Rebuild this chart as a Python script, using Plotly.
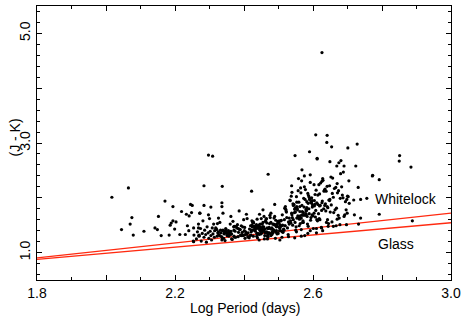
import plotly.graph_objects as go

# ---- data (log period in days, J-K colour) ----
sparse_logp = [2.017, 2.065, 2.075, 2.070, 2.045, 2.079, 2.110, 2.142, 2.149, 2.152, 2.160, 2.171,
               2.183, 2.186, 2.189, 2.194, 2.203, 2.199, 2.194, 2.214, 2.219, 2.230, 2.236, 2.240,
               2.233, 2.241, 2.248, 2.245, 2.250, 2.253, 2.270, 2.272, 2.284, 2.304, 2.336, 2.336,
               2.284, 2.337, 2.297, 2.309, 2.422, 2.470, 2.548, 2.590, 2.612, 2.568, 2.649, 2.608,
               2.626, 2.641, 2.640, 2.654, 2.701, 2.728, 2.612, 2.675, 2.681, 2.669, 2.690, 2.724,
               2.688, 2.704, 2.772, 2.731, 2.698, 2.718, 2.738, 2.756, 2.696, 2.699, 2.720, 2.738,
               2.732, 2.670, 2.644, 2.625, 2.851, 2.850, 2.884, 2.773, 2.792, 2.792, 2.888,
               2.254, 2.268, 2.255, 2.269, 2.254, 2.272, 2.592, 2.628, 2.659, 2.504, 2.678, 2.478]
sparse_jk = [2.01, 2.18, 1.64, 1.52, 1.42, 1.32, 1.39, 1.45, 1.42, 1.66, 1.31, 1.94,
             1.32, 1.50, 1.54, 1.58, 1.56, 1.43, 1.84, 1.33, 1.75, 1.33, 1.49, 1.40,
             1.70, 1.67, 1.73, 1.88, 1.86, 1.21, 1.32, 1.72, 1.86, 1.83, 1.91, 1.84,
             2.22, 2.21, 2.78, 2.76, 2.12, 2.43, 2.77, 2.84, 2.72, 2.51, 2.66, 3.15,
             4.65, 3.14, 3.01, 2.93, 2.91, 2.98, 2.71, 2.64, 2.68, 2.58, 2.58, 2.58,
             2.47, 2.31, 2.40, 2.19, 1.97, 1.96, 1.97, 1.99, 1.78, 1.72, 1.69, 1.63,
             1.52, 1.61, 1.48, 1.45, 2.77, 2.67, 2.56, 2.41, 2.33, 1.70, 1.58,
             1.45, 1.45, 1.32, 1.31, 1.20, 1.72, 1.40, 1.40, 1.48, 1.23, 1.51, 1.31]

band_a_logp = [2.262, 2.265, 2.268, 2.270, 2.274, 2.276, 2.279, 2.281, 2.284, 2.286, 2.289, 2.291,
               2.293, 2.296, 2.298, 2.300, 2.302, 2.304, 2.306, 2.308, 2.310, 2.312, 2.314, 2.315, 2.297]
band_a_jk = [1.25, 1.38, 1.52, 1.30, 1.44, 1.21, 1.35, 1.58, 1.28, 1.41, 1.33, 1.19,
             1.47, 1.36, 1.26, 1.62, 1.39, 1.31, 1.23, 1.45, 1.34, 1.52, 1.28, 1.40, 1.69]

band_b_logp = [2.324, 2.337, 2.319, 2.351, 2.330, 2.345, 2.362, 2.327, 2.372, 2.341, 2.321, 2.358,
               2.335, 2.381, 2.348, 2.366, 2.318, 2.390, 2.355, 2.376, 2.333, 2.399, 2.343, 2.386,
               2.364, 2.405, 2.329, 2.370, 2.352, 2.411, 2.339, 2.384, 2.360, 2.415, 2.347, 2.394,
               2.374, 2.322, 2.402, 2.356, 2.388, 2.336, 2.408, 2.368, 2.326, 2.397, 2.379, 2.349,
               2.413, 2.332, 2.392, 2.361, 2.344, 2.403, 2.383, 2.353, 2.409, 2.371, 2.338, 2.396,
               2.359, 2.401, 2.323, 2.389, 2.373, 2.339, 2.362, 2.386, 2.407, 2.326]
band_b_jk = [1.36, 1.27, 1.44, 1.31, 1.55, 1.22, 1.39, 1.33, 1.48, 1.26, 1.42, 1.35,
             1.29, 1.51, 1.38, 1.24, 1.45, 1.32, 1.40, 1.28, 1.36, 1.60, 1.34, 1.43,
             1.25, 1.38, 1.31, 1.47, 1.35, 1.29, 1.41, 1.37, 1.52, 1.27, 1.44, 1.33,
             1.39, 1.30, 1.46, 1.36, 1.42, 1.23, 1.34, 1.57, 1.38, 1.31, 1.45, 1.36,
             1.28, 1.41, 1.49, 1.33, 1.39, 1.26, 1.44, 1.35, 1.62, 1.30, 1.40, 1.47,
             1.37, 1.32, 1.53, 1.42, 1.28, 1.72, 1.66, 1.76, 1.70, 1.63]

band_c_logp = [2.421, 2.434, 2.418, 2.447, 2.426, 2.439, 2.452, 2.430, 2.461, 2.444, 2.423, 2.456,
               2.437, 2.468, 2.449, 2.428, 2.473, 2.441, 2.459, 2.419, 2.482, 2.465, 2.432, 2.477,
               2.454, 2.488, 2.425, 2.470, 2.446, 2.493, 2.436, 2.479, 2.458, 2.499, 2.442, 2.485,
               2.463, 2.420, 2.505, 2.451, 2.474, 2.431, 2.510, 2.490, 2.466, 2.438, 2.515, 2.457,
               2.496, 2.427, 2.481, 2.503, 2.445, 2.519, 2.471, 2.486, 2.433, 2.508, 2.460, 2.494,
               2.422, 2.476, 2.512, 2.448, 2.501, 2.467, 2.523, 2.440, 2.483, 2.453, 2.517, 2.429,
               2.491, 2.462, 2.506, 2.475, 2.435, 2.497, 2.513, 2.450, 2.480, 2.521, 2.443, 2.469,
               2.502, 2.424, 2.489, 2.516, 2.455, 2.478, 2.509, 2.484, 2.464, 2.495, 2.520, 2.472,
               2.498, 2.511, 2.458, 2.487, 2.504, 2.522, 2.448, 2.437, 2.492, 2.518, 2.466,
               2.444, 2.468, 2.489, 2.455]
band_c_jk = [1.38, 1.45, 1.31, 1.52, 1.41, 1.27, 1.36, 1.48, 1.43, 1.33, 1.58, 1.39,
             1.46, 1.30, 1.41, 1.54, 1.36, 1.44, 1.25, 1.49, 1.38, 1.62, 1.42, 1.34,
             1.47, 1.40, 1.55, 1.29, 1.45, 1.37, 1.51, 1.43, 1.66, 1.35, 1.48, 1.41,
             1.57, 1.32, 1.46, 1.39, 1.53, 1.44, 1.28, 1.50, 1.37, 1.61, 1.42, 1.47,
             1.34, 1.56, 1.45, 1.40, 1.70, 1.49, 1.36, 1.52, 1.43, 1.59, 1.31, 1.47,
             1.41, 1.64, 1.50, 1.38, 1.55, 1.45, 1.74, 1.35, 1.52, 1.43, 1.60, 1.48,
             1.26, 1.57, 1.40, 1.68, 1.46, 1.53, 1.37, 1.62, 1.44, 1.79, 1.50, 1.33,
             1.58, 1.47, 1.66, 1.41, 1.55, 1.72, 1.49, 1.36, 1.61, 1.52, 1.84, 1.44,
             1.57, 1.69, 1.39, 1.63, 1.51, 1.76, 1.46, 1.30, 1.59, 1.81, 1.54,
             1.23, 1.25, 1.88, 1.78]

band_d_logp = [2.531, 2.526, 2.544, 2.529, 2.538, 2.552, 2.534, 2.561, 2.541, 2.547, 2.556, 2.537,
               2.566, 2.549, 2.571, 2.543, 2.558, 2.576, 2.553, 2.563, 2.581, 2.568, 2.539, 2.586,
               2.574, 2.559, 2.591, 2.579, 2.548, 2.596, 2.583, 2.564, 2.601, 2.588, 2.572, 2.606,
               2.593, 2.545, 2.610, 2.598, 2.577, 2.555, 2.603, 2.584, 2.562, 2.540, 2.589, 2.569,
               2.551, 2.594, 2.580, 2.557, 2.535, 2.599, 2.573, 2.550, 2.608, 2.585, 2.566, 2.542,
               2.592, 2.570, 2.554, 2.533, 2.597, 2.578, 2.560, 2.604, 2.587, 2.546, 2.528, 2.595,
               2.575, 2.611, 2.582, 2.565, 2.600, 2.590, 2.567, 2.536, 2.605, 2.552, 2.580, 2.609,
               2.610, 2.611, 2.529, 2.547, 2.566, 2.585, 2.538, 2.558, 2.575, 2.592, 2.543, 2.553,
               2.563, 2.572, 2.582, 2.594, 2.603]
band_d_jk = [1.63, 1.45, 1.88, 1.56, 1.72, 1.38, 1.95, 1.61, 1.50, 1.79, 1.67, 2.03,
             1.42, 1.74, 1.58, 1.86, 1.65, 1.31, 1.92, 1.53, 1.77, 1.69, 2.10, 1.48,
             1.83, 1.62, 1.98, 1.71, 1.55, 1.90, 1.66, 2.18, 1.44, 1.80, 1.73, 2.06,
             1.59, 1.87, 1.36, 1.95, 1.68, 1.78, 2.24, 1.52, 1.84, 1.64, 2.01, 1.75,
             1.47, 1.92, 1.70, 2.13, 1.58, 1.86, 1.99, 1.41, 1.77, 2.08, 1.63, 1.89,
             2.28, 1.55, 1.81, 1.96, 1.69, 2.15, 1.49, 1.85, 2.04, 1.73, 1.33, 1.93,
             2.20, 1.60, 1.82, 2.09, 1.67, 1.97, 2.31, 1.54, 1.88, 2.02, 1.76, 2.14,
             1.44, 1.91, 1.29, 1.27, 1.30, 1.35, 2.22, 2.35, 2.40, 2.42, 1.60, 1.84,
             1.67, 1.55, 1.93, 1.64, 1.72]

band_e_logp = [2.618, 2.614, 2.631, 2.622, 2.645, 2.627, 2.638, 2.616, 2.652, 2.634, 2.620, 2.659,
               2.641, 2.625, 2.667, 2.649, 2.629, 2.673, 2.656, 2.636, 2.680, 2.613, 2.662, 2.643,
               2.687, 2.624, 2.670, 2.650, 2.694, 2.632, 2.676, 2.657, 2.619, 2.700, 2.639, 2.683,
               2.664, 2.646, 2.626, 2.690, 2.671, 2.653, 2.697, 2.635, 2.679, 2.660, 2.617, 2.705,
               2.642, 2.685, 2.668, 2.628, 2.692, 2.648, 2.674, 2.655, 2.621, 2.702, 2.637, 2.666]
band_e_jk = [1.62, 2.05, 1.80, 2.27, 1.53, 1.94, 2.12, 1.71, 2.38, 1.86, 1.60, 2.01,
             2.21, 1.77, 1.49, 1.97, 2.32, 1.68, 2.08, 1.89, 2.44, 1.58, 2.17, 1.82,
             2.00, 1.46, 2.26, 1.74, 1.93, 2.12, 1.63, 2.36, 1.85, 2.03, 1.55, 2.20,
             1.78, 1.96, 2.30, 1.66, 2.09, 1.87, 1.51, 2.16, 1.99, 1.73, 2.24, 1.90,
             1.60, 2.05, 1.81, 2.35, 1.69, 1.95, 2.13, 1.56, 1.86, 2.02, 1.76, 2.19]

core_logp = [2.342, 2.356, 2.371, 2.383, 2.395, 2.404, 2.416, 2.427, 2.433, 2.441, 2.449, 2.458,
             2.466, 2.473, 2.481, 2.488, 2.494, 2.503, 2.511, 2.519,
             2.348, 2.364, 2.377, 2.392, 2.401, 2.412, 2.423, 2.437, 2.446, 2.453, 2.462, 2.470,
             2.478, 2.485, 2.497, 2.507, 2.515, 2.524, 2.531, 2.539,
             2.548, 2.553, 2.559, 2.562, 2.568, 2.571, 2.577, 2.580, 2.586, 2.589, 2.596, 2.598,
             2.604, 2.607, 2.614, 2.619, 2.626, 2.633, 2.641, 2.648]
core_jk = [1.35, 1.30, 1.41, 1.29, 1.37, 1.33, 1.43, 1.30, 1.39, 1.47, 1.34, 1.42,
           1.38, 1.46, 1.33, 1.51, 1.40, 1.45, 1.38, 1.49,
           1.42, 1.34, 1.48, 1.31, 1.40, 1.36, 1.50, 1.35, 1.41, 1.52, 1.36, 1.44,
           1.55, 1.42, 1.48, 1.58, 1.43, 1.64, 1.52, 1.69,
           1.81, 1.63, 1.92, 1.75, 1.86, 1.68, 1.97, 1.79, 1.90, 1.71, 2.00, 1.83,
           1.95, 1.65, 1.88, 2.07, 1.91, 2.14, 1.84, 2.22]

line_logp = [1.8, 3.0]
whitelock_jk = [0.903, 1.72]
glass_jk = [0.877, 1.545]

x_tickvals = [1.8, 2.0, 2.2, 2.4, 2.6, 2.8, 3.0]
x_ticktext = ["1.8", "", "2.2", "", "2.6", "", "3.0"]
y_tickvals = [1, 2, 3, 4, 5]
y_ticktext = ["1.0", "", "3.0", "", "5.0"]

all_logp = sparse_logp + band_a_logp + band_b_logp + band_c_logp + band_d_logp + band_e_logp + core_logp
all_jk = sparse_jk + band_a_jk + band_b_jk + band_c_jk + band_d_jk + band_e_jk + core_jk

FONT = "Liberation Sans Narrow, Liberation Sans, Arial, sans-serif"
RED = "#ff2a10"

fig = go.Figure()
fig.add_trace(go.Scatter(x=line_logp, y=whitelock_jk, mode="lines",
                         line=dict(color=RED, width=1.3), hoverinfo="skip"))
fig.add_trace(go.Scatter(x=line_logp, y=glass_jk, mode="lines",
                         line=dict(color=RED, width=1.3), hoverinfo="skip"))
fig.add_trace(go.Scatter(x=all_logp, y=all_jk, mode="markers",
                         marker=dict(color="black", size=3.2, line=dict(width=0))))

axis_common = dict(showline=True, linecolor="black", linewidth=1.2, mirror="allticks",
                   ticks="inside", tickcolor="black", showgrid=False, zeroline=False,
                   tickfont=dict(family=FONT, size=14, color="black"))

fig.update_layout(
    width=469, height=318,
    margin=dict(l=37, r=18, t=6, b=38),
    paper_bgcolor="white", plot_bgcolor="white",
    showlegend=False,
    xaxis=dict(range=[1.8, 3.0], tickvals=x_tickvals, ticktext=x_ticktext, ticklen=5,
               minor=dict(dtick=0.1, tick0=1.8, ticklen=3, ticks="inside", tickcolor="black"),
               **axis_common),
    yaxis=dict(range=[0.5, 5.5], tickvals=y_tickvals, ticktext=y_ticktext, ticklen=5,
               tickangle=-90,
               minor=dict(dtick=0.2, tick0=0.0, ticklen=3, ticks="inside", tickcolor="black"),
               **axis_common),
    annotations=[
        dict(text="Log Period (days)", xref="paper", yref="paper", x=0.503, y=0,
             yshift=-28, showarrow=False, yanchor="middle",
             font=dict(family=FONT, size=14, color="black")),
        dict(text="(J - K)", xref="paper", yref="paper", x=0, y=0.52, xshift=-22,
             textangle=-90, showarrow=False, xanchor="center",
             font=dict(family=FONT, size=14, color="black")),
        dict(text="Whitelock", x=2.870, y=1.98, showarrow=False,
             font=dict(family=FONT, size=14, color="black")),
        dict(text="Glass", x=2.841, y=1.15, showarrow=False,
             font=dict(family=FONT, size=14, color="black")),
    ],
)

fig.write_html("out.html", config={"displayModeBar": False},
               post_script="document.body.style.margin='0';")
